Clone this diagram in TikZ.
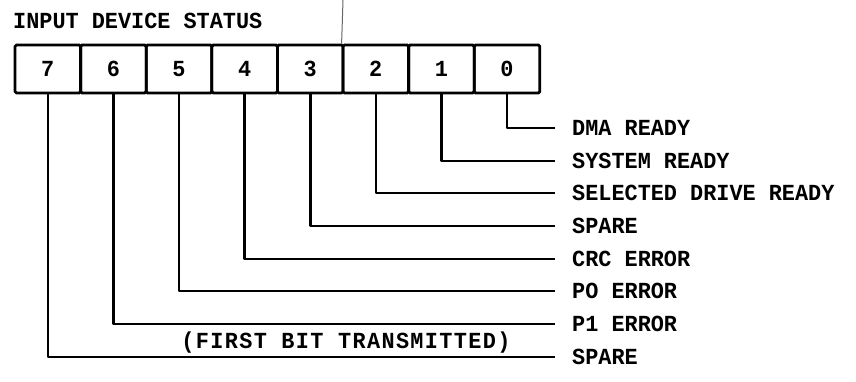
\documentclass[tikz,border=0pt]{standalone}
\usepackage{fontspec}
\newfontfamily\regfont[FakeStretch=0.95]{Liberation Mono}
\tikzset{
  cell/.style={draw, line width=2.8pt, rounded corners=1.5pt, minimum width=65.6pt,
    minimum height=48pt, inner sep=0pt, text height=15pt, text depth=0pt},
  lbl/.style={anchor=west, inner sep=0pt, text height=15pt, text depth=0pt},
  lead/.style={line width=2.6pt, line join=round},
}
\begin{document}
\begin{tikzpicture}[x=1pt, y=-1pt, font=\regfont\bfseries\fontsize{23}{26}\selectfont]
    \useasboundingbox (0,0) rectangle (856,381);

    % Title
    \node (title) at (13,21) [lbl] {INPUT DEVICE STATUS};

    % Register cells, bit 7 on the left
    \foreach \b in {0,...,7}{
        \node (b\b) at ({15+65.6*(7-\b+0.5)},69) [cell] {\b};
    }

    % Stray mark above the register
    \coordinate (mark) at (343,0);
    \draw[line width=1pt, black!60] (mark) -- (b2.north west);

    % Bit names
    \node (l0) at (572,128) [lbl] {DMA READY};
    \node (l1) at (572,161) [lbl] {SYSTEM READY};
    \node (l2) at (572,193) [lbl] {SELECTED DRIVE READY};
    \node (l3) at (572,226) [lbl] {SPARE};
    \node (l4) at (572,259) [lbl] {CRC ERROR};
    \node (l5) at (572,291) [lbl] {PO ERROR};
    \node (l6) at (572,324) [lbl] {P1 ERROR};
    \node (l7) at (572,357) [lbl] {SPARE};

    % Leads from each bit to its name
    \foreach \b in {0,...,7}{
        \draw[lead] (b\b.south) |- ([xshift=-17pt]l\b.west);
    }

    % Note between the two lowest leads
    \node (first) at (346,341) [lbl, anchor=center]
        {\addfontfeature{LetterSpace=6}(FIRST BIT TRANSMITTED)};
\end{tikzpicture}
\end{document}
